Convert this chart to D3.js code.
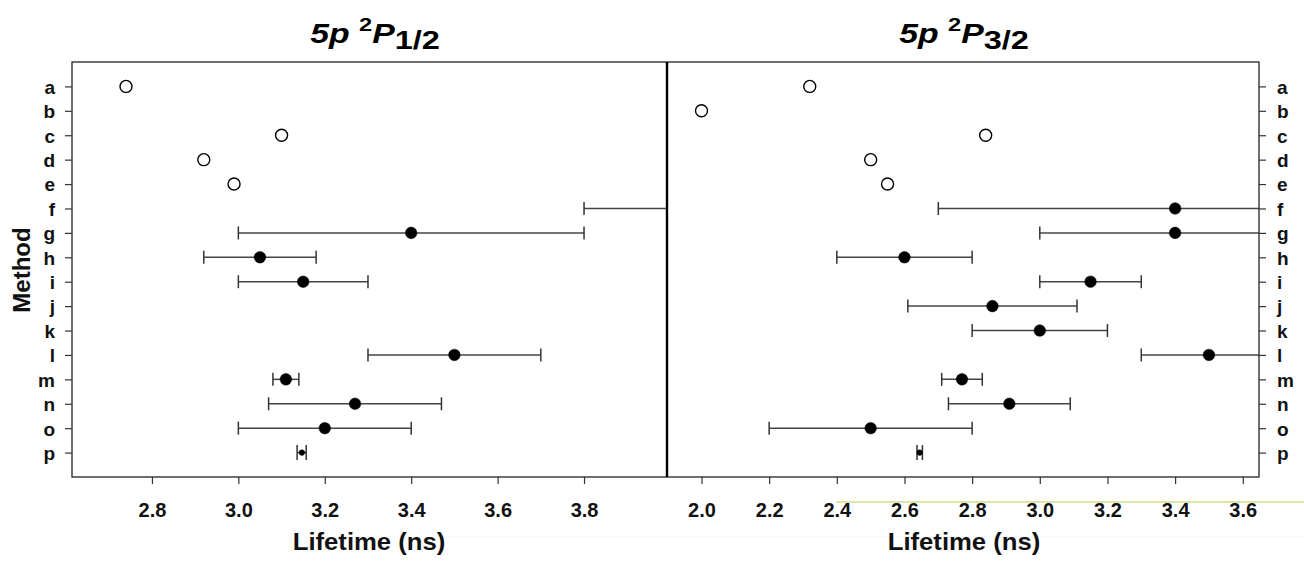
<!DOCTYPE html>
<html>
<head>
<meta charset="utf-8">
<script src="https://cdn.jsdelivr.net/npm/d3@7"></script>
<style>
  html, body { margin: 0; padding: 0; background: #ffffff; }
  svg { display: block; font-family: "Liberation Sans", Arial, sans-serif; }
</style>
</head>
<body>
<svg id="chart" width="1304" height="561"></svg>
<script>
// ---------------- data ----------------
const methods = ["a","b","c","d","e","f","g","h","i","j","k","l","m","n","o","p"];
const markerType = ["open","open","open","open","open","filled","filled","filled","filled","filled","filled","filled","filled","filled","filled","small"];

// 5p 2P1/2 lifetimes (ns)
const leftVal = [2.74, null, 3.10, 2.92, 2.99, 4.30, 3.40, 3.05, 3.15, null, null, 3.50, 3.11, 3.27, 3.20, 3.147];
const leftLo  = [null, null, null, null, null, 3.80, 3.00, 2.92, 3.00, null, null, 3.30, 3.08, 3.07, 3.00, 3.136];
const leftHi  = [null, null, null, null, null, 4.80, 3.80, 3.18, 3.30, null, null, 3.70, 3.14, 3.47, 3.40, 3.157];

// 5p 2P3/2 lifetimes (ns)
const rightVal = [2.32, 2.00, 2.84, 2.50, 2.55, 3.40, 3.40, 2.60, 3.15, 2.86, 3.00, 3.50, 2.77, 2.91, 2.50, 2.645];
const rightLo  = [null, null, null, null, null, 2.70, 3.00, 2.40, 3.00, 2.61, 2.80, 3.30, 2.71, 2.73, 2.20, 2.637];
const rightHi  = [null, null, null, null, null, 4.10, 3.80, 2.80, 3.30, 3.11, 3.20, 3.70, 2.83, 3.09, 2.80, 2.653];

const leftTicks  = [2.8, 3.0, 3.2, 3.4, 3.6, 3.8];
const rightTicks = [2.0, 2.2, 2.4, 2.6, 2.8, 3.0, 3.2, 3.4, 3.6];
const xLabel = "Lifetime (ns)";
const yLabel = "Method";

// ---------------- layout ----------------
const svg = d3.select("#chart");
const yTop = 62, yBot = 477;
const lx0 = 72, mid = 667, rx1 = 1259;

const y = d3.scalePoint().domain(methods).range([yTop, yBot]).padding(1);
const xL = d3.scaleLinear().domain([2.615, 3.992]).range([lx0, mid]);
const xR = d3.scaleLinear().domain([1.898, 3.648]).range([mid, rx1]);

const defs = svg.append("defs");
defs.append("clipPath").attr("id", "clipL").append("rect")
  .attr("x", lx0).attr("y", yTop).attr("width", mid - lx0).attr("height", yBot - yTop);
defs.append("clipPath").attr("id", "clipR").append("rect")
  .attr("x", mid).attr("y", yTop).attr("width", rx1 - mid).attr("height", yBot - yTop);

// faint scan artifacts
svg.append("line").attr("x1", 836).attr("x2", 1304).attr("y1", 502).attr("y2", 502)
  .attr("stroke", "#dfe5a8").attr("stroke-width", 1.8);
svg.append("line").attr("x1", 440).attr("x2", 1304).attr("y1", 537).attr("y2", 537)
  .attr("stroke", "#eef6f6").attr("stroke-width", 1);

function drawPanel(x, vals, lo, hi, clipId, ticks) {
  const g = svg.append("g").attr("clip-path", `url(#${clipId})`);
  const rows = methods.map((m, i) => ({ m, v: vals[i], lo: lo[i], hi: hi[i], t: markerType[i] }));
  const bars = rows.filter(d => d.lo != null && d.hi != null);
  const capH = d => d.t === "small" ? 7.5 : 6.5;
  g.selectAll(".eb").data(bars).join("line")
    .attr("x1", d => x(d.lo)).attr("x2", d => x(d.hi))
    .attr("y1", d => y(d.m)).attr("y2", d => y(d.m))
    .attr("stroke", "#444").attr("stroke-width", 1.5);
  g.selectAll(".capL").data(bars).join("line")
    .attr("x1", d => x(d.lo)).attr("x2", d => x(d.lo))
    .attr("y1", d => y(d.m) - capH(d)).attr("y2", d => y(d.m) + capH(d))
    .attr("stroke", "#333").attr("stroke-width", 1.5);
  g.selectAll(".capH").data(bars).join("line")
    .attr("x1", d => x(d.hi)).attr("x2", d => x(d.hi))
    .attr("y1", d => y(d.m) - capH(d)).attr("y2", d => y(d.m) + capH(d))
    .attr("stroke", "#333").attr("stroke-width", 1.5);
  const pts = rows.filter(d => d.v != null);
  g.selectAll(".pt").data(pts).join("circle")
    .attr("cx", d => x(d.v)).attr("cy", d => y(d.m))
    .attr("r", d => d.t === "open" ? 6 : d.t === "small" ? 2.8 : 5.8)
    .attr("fill", d => d.t === "open" ? "#fff" : "#000")
    .attr("stroke", "#000")
    .attr("stroke-width", d => d.t === "open" ? 1.4 : 0.5);

  const ax = svg.append("g").attr("transform", `translate(0,${yBot})`)
    .call(d3.axisBottom(x).tickValues(ticks).tickSize(7).tickPadding(19).tickFormat(d3.format(".1f")));
  ax.select(".domain").remove();
  ax.selectAll(".tick line").attr("stroke", "#333").attr("stroke-width", 1.2);
  ax.selectAll(".tick text").attr("font-size", 20).attr("font-weight", "bold")
    .attr("fill", "#111").attr("font-family", "Liberation Sans, Arial, sans-serif");
}

drawPanel(xL, leftVal, leftLo, leftHi, "clipL", leftTicks);
drawPanel(xR, rightVal, rightLo, rightHi, "clipR", rightTicks);

// frames
svg.append("rect").attr("x", lx0).attr("y", yTop).attr("width", rx1 - lx0).attr("height", yBot - yTop)
  .attr("fill", "none").attr("stroke", "#222").attr("stroke-width", 1.3);
svg.append("line").attr("x1", mid).attr("x2", mid).attr("y1", yTop).attr("y2", yBot)
  .attr("stroke", "#000").attr("stroke-width", 2.4);

// y axes
const ayL = svg.append("g").attr("transform", `translate(${lx0},0)`)
  .call(d3.axisLeft(y).tickSize(7).tickPadding(10));
ayL.select(".domain").remove();
const ayR = svg.append("g").attr("transform", `translate(${rx1},0)`)
  .call(d3.axisRight(y).tickSize(7).tickPadding(11));
ayR.select(".domain").remove();
[ayL, ayR].forEach(a => {
  a.selectAll(".tick line").attr("stroke", "#333").attr("stroke-width", 1.2);
  a.selectAll(".tick text").attr("font-size", 19).attr("font-weight", "bold").attr("fill", "#111")
    .attr("dy", "0.36em").attr("font-family", "Liberation Sans, Arial, sans-serif");
});

// axis titles
[[369, xLabel], [964, xLabel]].forEach(([cx, t]) => {
  svg.append("text").attr("transform", `translate(${cx},550) scale(1.07,1)`)
    .attr("text-anchor", "middle").attr("font-size", 24).attr("font-weight", "bold")
    .attr("fill", "#111").text(t);
});
svg.append("text").attr("transform", "translate(30,270) rotate(-90)")
  .attr("text-anchor", "middle").attr("font-size", 24).attr("font-weight", "bold")
  .attr("fill", "#111").text(yLabel);

// panel titles: 5p ^2P_{j}
function title(cx, sub) {
  const t = svg.append("text").attr("transform", `translate(${cx},43) scale(1.25,1)`)
    .attr("text-anchor", "middle").attr("font-weight", "bold").attr("fill", "#000");
  t.append("tspan").attr("font-size", 27).attr("font-style", "italic").text("5p ");
  t.append("tspan").attr("font-size", 19).attr("dy", -12).text("2");
  t.append("tspan").attr("font-size", 27).attr("font-style", "italic").attr("dy", 12).text("P");
  t.append("tspan").attr("font-size", 26).attr("dy", 6).text(sub);
}
title(375, "1/2");
title(964, "3/2");
</script>
</body>
</html>
